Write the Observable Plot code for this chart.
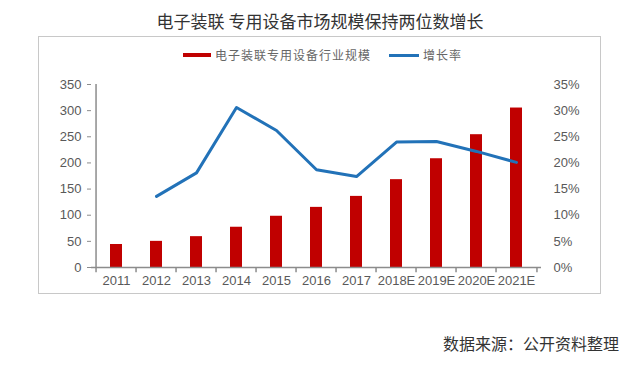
<!DOCTYPE html>
<html><head><meta charset="utf-8">
<script src="https://cdn.jsdelivr.net/npm/d3@7"></script>
<script src="https://cdn.jsdelivr.net/npm/@observablehq/plot@0.6"></script>
<style>
body{margin:0;background:#fff;width:640px;height:375px;overflow:hidden;position:relative;font-family:"Noto Sans CJK SC",sans-serif}
#title{position:absolute;top:9px;left:0;width:640px;text-align:center;font-size:17px;line-height:24px;color:#333;white-space:pre}
#box{position:absolute;left:38px;top:36px;width:563px;height:258px;border:1.5px solid #c8c8c8;box-sizing:border-box}
#chart{position:absolute;left:0;top:0}
.lg{position:absolute;font-size:12px;line-height:16px;color:#666;letter-spacing:1px}
.sw{position:absolute}
#caption{position:absolute;left:443px;top:332px;font-size:16px;line-height:22px;color:#333}
</style></head>
<body>
<div id="title">电子装联 专用设备市场规模保持两位数增长</div>
<div id="box"></div>
<div class="sw" style="left:183px;top:53px;width:28px;height:4px;background:#C00000"></div>
<div class="lg" style="left:215px;top:47px">电子装联专用设备行业规模</div>
<div class="sw" style="left:389px;top:54px;width:30px;height:3px;background:#2272B8"></div>
<div class="lg" style="left:423px;top:47px">增长率</div>
<div id="chart"></div>
<div id="caption">数据来源：公开资料整理</div>
<script>
const years = ["2011","2012","2013","2014","2015","2016","2017","2018E","2019E","2020E","2021E"];
const marketSize = [44, 50, 59, 77, 98, 115, 136, 168, 208, 254, 305];
const growthPct = [null, 13.6, 18.1, 30.6, 26.2, 18.7, 17.4, 24.0, 24.1, 22.2, 20.1];
const leftTicks = [0, 50, 100, 150, 200, 250, 300, 350];
const rightTickLabels = ["0%","5%","10%","15%","20%","25%","30%","35%"];

const data = years.map((y, i) => ({year: y, size: marketSize[i], g: growthPct[i]}));
const lineData = data.filter(d => d.g != null);

const W = 640, H = 300, mL = 91, mR = 99, mT = 84, mB = 33;
const bw = (W - mL - mR) / years.length;
const axisColor = "#8c8c8c";

const chart = Plot.plot({
  width: W, height: H,
  marginLeft: mL, marginRight: mR, marginTop: mT, marginBottom: mB,
  style: {fontFamily: "'Liberation Sans', Arial, sans-serif", fontSize: "13px", color: "#595959", background: "transparent"},
  x: {domain: years, padding: 0, label: null},
  y: {domain: [0, 350], label: null},
  marks: [
    Plot.barY(data, {x: "year", y: "size", fill: "#C00000", insetLeft: 14, insetRight: 14}),
    Plot.ruleY([0], {stroke: axisColor, strokeWidth: 1.5}),
    Plot.ruleX([years[0]], {x: d => d, y1: 0, y2: 350, dx: -bw / 2, stroke: axisColor, strokeWidth: 1.5}),
    Plot.ruleX(years, {x: d => d, y1: 0, y2: -10, dx: -bw / 2, stroke: axisColor, strokeWidth: 1.5}),
    Plot.ruleX([years[years.length - 1]], {x: d => d, y1: 0, y2: -10, dx: bw / 2, stroke: axisColor, strokeWidth: 1.5}),
    Plot.line(lineData, {x: "year", y: d => d.g * 10, stroke: "#2272B8", strokeWidth: 3, strokeLinejoin: "round"}),
    Plot.axisY({anchor: "left", ticks: leftTicks, tickSize: 4, tickPadding: 6, stroke: axisColor, label: null, fill: "#595959"}),
    Plot.axisY({anchor: "right", ticks: leftTicks, tickSize: 0, tickPadding: 12, label: null, fill: "#595959",
      tickFormat: d => rightTickLabels[leftTicks.indexOf(d)]}),
    Plot.axisX({tickSize: 0, tickPadding: 8, label: null, fill: "#595959"})
  ]
});
document.getElementById("chart").appendChild(chart);
</script>
</body></html>
